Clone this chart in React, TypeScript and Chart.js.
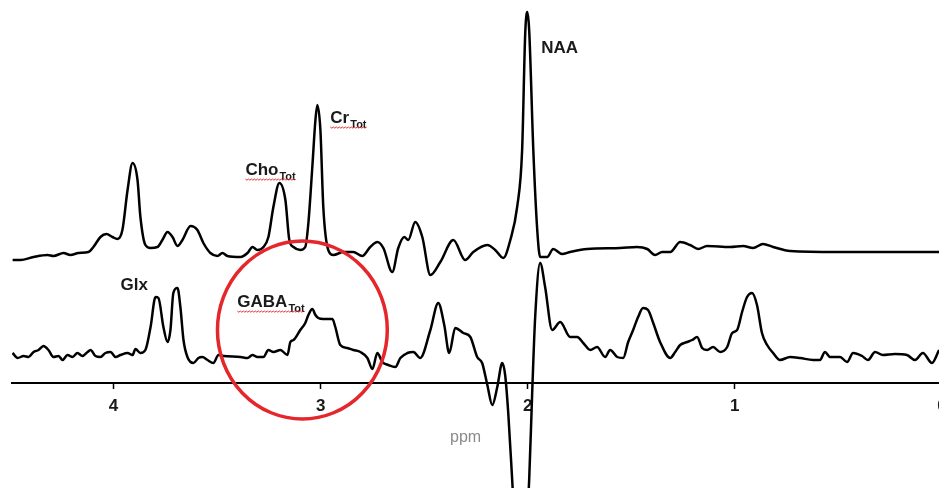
import React, { useEffect, useRef } from "react";
import { Chart, registerables } from "chart.js";

Chart.register(...registerables);

// Chemical shift (ppm) and intensity (a.u., 0 = axis level) for the upper spectrum
const upperPpm = [
  4.487, 4.449, 4.386, 4.318, 4.29, 4.241, 4.208, 4.169, 4.121, 4.097, 4.063, 4.034, 4.005, 3.981, 3.957,
  3.932, 3.908, 3.884, 3.87, 3.846, 3.821, 3.788, 3.764, 3.739, 3.715, 3.691, 3.667, 3.628, 3.595, 3.566,
  3.532, 3.498, 3.474, 3.45, 3.387, 3.353, 3.329, 3.305, 3.276, 3.252, 3.228, 3.199, 3.17, 3.151, 3.131,
  3.098, 3.074, 3.059, 3.04, 3.025, 3.016, 3.001, 2.987, 2.963, 2.938, 2.89, 2.842, 2.799, 2.76, 2.726,
  2.697, 2.654, 2.625, 2.596, 2.577, 2.543, 2.509, 2.47, 2.422, 2.359, 2.302, 2.263, 2.195, 2.157, 2.118,
  2.084, 2.051, 2.027, 2.012, 2.002, 1.993, 1.973, 1.954, 1.94, 1.906, 1.877, 1.834, 1.795, 1.713, 1.554,
  1.472, 1.423, 1.385, 1.351, 1.312, 1.264, 1.216, 1.177, 1.134, 1.023, 0.96, 0.912, 0.864, 0.815, 0.733,
  0.507, 0.347, 0.188, 0.014,
];
const upperValues = [
  123, 123, 126, 128, 127, 130, 128, 130, 131, 136, 146, 149, 146, 144, 153,
  193, 220, 203, 166, 138, 135, 136, 143, 151, 146, 137, 143, 157, 153, 140,
  130, 127, 130, 127, 126, 130, 136, 133, 136, 146, 176, 200, 183, 143, 136,
  133, 136, 160, 216, 263, 278, 253, 176, 133, 128, 131, 131, 127, 136, 141,
  135, 111, 135, 146, 143, 161, 146, 108, 121, 143, 123, 131, 138, 133, 125,
  143, 176, 233, 350, 371, 353, 233, 153, 126, 126, 134, 129, 131, 134, 135,
  136, 134, 128, 131, 131, 141, 138, 134, 137, 136, 137, 135, 139, 136, 132,
  131, 131, 131, 131,
];

// Lower (edited) spectrum
const lowerPpm = [
  4.487, 4.463, 4.434, 4.41, 4.386, 4.362, 4.338, 4.314, 4.29, 4.265, 4.246, 4.222, 4.198, 4.174, 4.15,
  4.125, 4.111, 4.087, 4.063, 4.039, 4.014, 3.99, 3.966, 3.932, 3.908, 3.894, 3.87, 3.846, 3.821, 3.797,
  3.783, 3.759, 3.739, 3.725, 3.711, 3.691, 3.677, 3.662, 3.643, 3.614, 3.59, 3.571, 3.546, 3.518, 3.493,
  3.469, 3.387, 3.353, 3.329, 3.305, 3.276, 3.252, 3.228, 3.194, 3.16, 3.146, 3.131, 3.098, 3.074, 3.059,
  3.04, 3.025, 3.011, 2.987, 2.943, 2.929, 2.905, 2.871, 2.842, 2.808, 2.774, 2.75, 2.726, 2.702, 2.673,
  2.639, 2.615, 2.581, 2.552, 2.519, 2.47, 2.432, 2.403, 2.379, 2.35, 2.311, 2.277, 2.244, 2.22, 2.195,
  2.171, 2.147, 2.123, 2.109, 2.094, 2.075, 2.036, 1.993, 1.978, 1.964, 1.94, 1.916, 1.882, 1.843, 1.795,
  1.761, 1.732, 1.698, 1.665, 1.626, 1.602, 1.568, 1.539, 1.515, 1.491, 1.467, 1.443, 1.419, 1.394, 1.361,
  1.312, 1.288, 1.264, 1.23, 1.206, 1.182, 1.158, 1.134, 1.105, 1.071, 1.037, 1.013, 0.989, 0.965, 0.941,
  0.917, 0.893, 0.869, 0.844, 0.815, 0.782, 0.733, 0.685, 0.622, 0.589, 0.565, 0.54, 0.492, 0.458, 0.429,
  0.386, 0.357, 0.323, 0.285, 0.227, 0.169, 0.13, 0.092, 0.048, 0.014,
];
const lowerValues = [
  30, 25, 27, 26, 31, 33, 37, 33, 26, 27, 23, 28, 26, 30, 27,
  31, 33, 27, 26, 30, 31, 26, 28, 30, 28, 34, 30, 33, 56, 86,
  85, 56, 41, 53, 90, 95, 76, 43, 26, 20, 25, 26, 23, 20, 28,
  27, 26, 25, 28, 26, 26, 33, 31, 33, 28, 41, 43, 53, 60, 68,
  74, 68, 65, 64, 64, 56, 38, 35, 33, 31, 25, 14, 30, 21, 18,
  16, 25, 30, 31, 25, 53, 80, 58, 30, 55, 50, 46, 26, 20, -2,
  -22, -4, 20, 8, -30, -97, -237, -97, -7, 66, 120, 96, 53, 61, 46,
  46, 40, 33, 36, 26, 33, 26, 25, 41, 53, 66, 75, 73, 60, 41,
  25, 31, 38, 41, 43, 46, 35, 33, 36, 31, 36, 50, 53, 71, 86,
  90, 78, 50, 38, 30, 23, 26, 25, 23, 23, 31, 26, 26, 21, 30,
  27, 23, 31, 28, 29, 28, 23, 30, 20, 33,
];

const tickValues = [0, 1, 2, 3, 4];
const axisTitle = "ppm";
const axisTitlePpm = 2.3;

// Peak labels: main text, subscript, anchor (ppm, intensity) of label baseline-left
const labelTexts = ["NAA", "Cr", "Cho", "Glx", "GABA"];
const labelSubs = ["", "Tot", "Tot", "", "Tot"];
const labelPpm = [1.935, 2.953, 3.363, 3.966, 3.402];
const labelY = [330, 260, 208, 93, 76];
const labelUnderlined = [false, true, true, false, true];

// Highlight ellipse around the GABA peak (center ppm / intensity, radii in ppm / intensity)
const circleCenter = [3.088, 53];
const circleRadius = [0.41, 89];

const FONT = '"Liberation Sans", Arial, sans-serif';

const annotationPlugin = {
  id: "mrsAnnotations",
  afterDatasetsDraw(chart: any) {
    const { ctx } = chart;
    const xs = chart.scales.x;
    const ys = chart.scales.y;
    ctx.save();
    for (let i = 0; i < labelTexts.length; i++) {
      const x = xs.getPixelForValue(labelPpm[i]);
      const y = ys.getPixelForValue(labelY[i]);
      ctx.fillStyle = "#1a1a1a";
      ctx.textBaseline = "alphabetic";
      ctx.textAlign = "left";
      ctx.font = `bold 17px ${FONT}`;
      ctx.fillText(labelTexts[i], x, y);
      const w = ctx.measureText(labelTexts[i]).width;
      let end = x + w;
      if (labelSubs[i]) {
        ctx.font = `bold 11px ${FONT}`;
        ctx.fillText(labelSubs[i], x + w + 1, y + 5);
        end = x + w + 1 + ctx.measureText(labelSubs[i]).width;
      }
      if (labelUnderlined[i]) {
        ctx.strokeStyle = "#e03030";
        ctx.lineWidth = 1;
        ctx.beginPath();
        const uy = y + 4;
        let k = 0;
        for (let px = x; px <= end; px += 1.5) {
          const yy = uy + (k % 2 === 0 ? 0 : 1.2);
          if (k === 0) ctx.moveTo(px, yy);
          else ctx.lineTo(px, yy);
          k++;
        }
        ctx.stroke();
      }
    }
    ctx.fillStyle = "#8a8a8a";
    ctx.font = `16px ${FONT}`;
    ctx.textAlign = "center";
    ctx.textBaseline = "alphabetic";
    ctx.fillText(axisTitle, xs.getPixelForValue(axisTitlePpm), ys.getPixelForValue(0) + 59);
    const cx = xs.getPixelForValue(circleCenter[0]);
    const cy = ys.getPixelForValue(circleCenter[1]);
    const rx = Math.abs(xs.getPixelForValue(circleCenter[0] + circleRadius[0]) - cx);
    const ry = Math.abs(ys.getPixelForValue(circleCenter[1] + circleRadius[1]) - cy);
    ctx.strokeStyle = "#e5262a";
    ctx.lineWidth = 3.5;
    ctx.beginPath();
    ctx.ellipse(cx, cy, rx, ry, 0, 0, Math.PI * 2);
    ctx.stroke();
    ctx.restore();
  },
};

export default function App() {
  const ref = useRef<HTMLCanvasElement | null>(null);
  useEffect(() => {
    if (!ref.current) return;
    const chart = new Chart(ref.current, {
      type: "line",
      data: {
        datasets: [
          {
            data: upperPpm.map((x, i) => ({ x, y: upperValues[i] })),
            borderColor: "#000",
            borderWidth: 2.5,
            pointRadius: 0,
            cubicInterpolationMode: "monotone",
            fill: false,
          },
          {
            data: lowerPpm.map((x, i) => ({ x, y: lowerValues[i] })),
            borderColor: "#000",
            borderWidth: 2.5,
            pointRadius: 0,
            cubicInterpolationMode: "monotone",
            fill: false,
          },
        ],
      },
      options: {
        responsive: false,
        animation: false,
        devicePixelRatio: 1,
        layout: { padding: { left: 12, right: 5, top: 0, bottom: 0 } },
        plugins: { legend: { display: false }, tooltip: { enabled: false } },
        scales: {
          x: {
            type: "linear",
            reverse: true,
            min: -0.063,
            max: 4.49,
            position: { y: 0 } as any,
            border: { display: true, color: "#000", width: 2 },
            grid: {
              display: true,
              drawOnChartArea: false,
              drawTicks: true,
              tickLength: 5,
              tickColor: "#000",
              tickWidth: 1.5,
            },
            afterBuildTicks: (scale: any) => {
              scale.ticks = tickValues.map((v) => ({ value: v }));
            },
            ticks: {
              autoSkip: false,
              maxRotation: 0,
              color: "#1a1a1a",
              padding: 8,
              font: { family: FONT, size: 17, weight: "bold" },
              callback: (v: any) => String(v),
            },
          },
          y: { type: "linear", display: false, min: -105, max: 383 },
        },
      },
      plugins: [annotationPlugin],
    } as any);
    return () => chart.destroy();
  }, []);
  return (
    <div
      style={{
        position: "fixed",
        left: 0,
        top: 0,
        width: 939,
        height: 488,
        overflow: "hidden",
        background: "#fff",
      }}
    >
      <canvas ref={ref} width={960} height={488} style={{ width: 960, height: 488, display: "block" }} />
    </div>
  );
}
